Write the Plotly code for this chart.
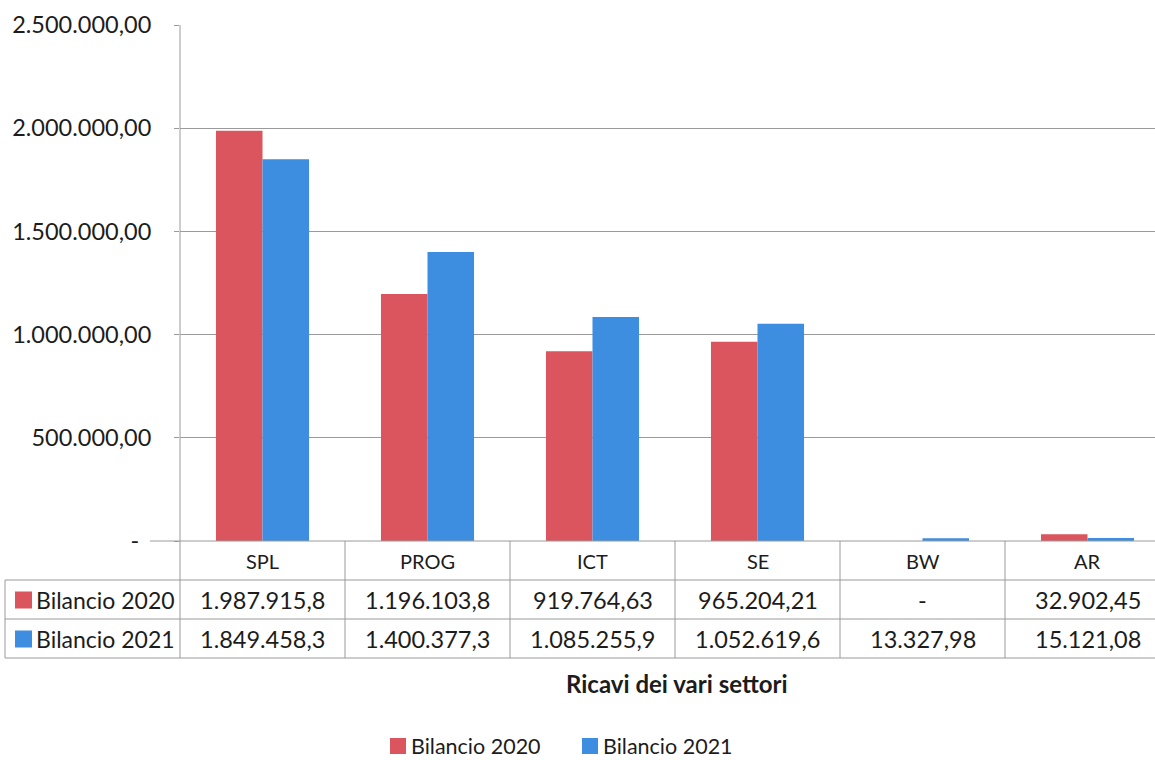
import plotly.graph_objects as go

# Sector revenues, two budget years
settori = ["SPL", "PROG", "ICT", "SE", "BW", "AR"]
bilancio_2020 = [1987915.80, 1196103.80, 919764.63, 965204.21, 0.0, 32902.45]
bilancio_2021 = [1849458.30, 1400377.30, 1085255.90, 1052619.60, 13327.98, 15121.08]
serie = ["Bilancio 2020", "Bilancio 2021"]
colori = ["#DA555D", "#3D8DE0"]

y_tick_vals = [0, 500000, 1000000, 1500000, 2000000, 2500000]
y_tick_text = ["-\u00a0\u00a0", "500.000,00", "1.000.000,00", "1.500.000,00",
               "2.000.000,00", "2.500.000,00"]

FONT = "Lato"
TXT = "#1c1c1c"
GRID = "#9a9a9a"


def fmt_it(v, width=11):
    """Italian number format with two decimals, clipped to the cell width."""
    if v == 0:
        return "-"
    s = f"{v:,.2f}".replace(",", "X").replace(".", ",").replace("X", ".")
    return s[:width]


fig = go.Figure()
for name, vals, col in zip(serie, [bilancio_2020, bilancio_2021], colori):
    fig.add_trace(go.Bar(x=settori, y=vals, name=name, marker_color=col,
                         marker_line_width=0, showlegend=False))

# pixel geometry of the plot area
W, H = 1155, 760
L, T, B = 180, 25, 219
plot_h = H - T - B
plot_w = W - L


def py(pix):
    return (H - B - pix) / plot_h


def px(pix):
    return (pix - L) / plot_w


row_lines = [py(580), py(619), py(658)]
row_mid = [py(561), py(600), py(639)]

shapes = []
# horizontal table rules
shapes.append(dict(type="line", xref="paper", yref="paper", x0=px(150), x1=1,
                   y0=0, y1=0, line=dict(color=GRID, width=1)))
for yy in row_lines:
    shapes.append(dict(type="line", xref="paper", yref="paper", x0=px(5), x1=1,
                       y0=yy, y1=yy, line=dict(color=GRID, width=1)))
# vertical table rules
shapes.append(dict(type="line", xref="paper", yref="paper", x0=px(5), x1=px(5),
                   y0=row_lines[0], y1=row_lines[2], line=dict(color=GRID, width=1)))
shapes.append(dict(type="line", xref="paper", yref="paper", x0=0, x1=0,
                   y0=1, y1=row_lines[2], line=dict(color=GRID, width=1)))
for i in range(len(settori) - 1):
    shapes.append(dict(type="line", xref="x", yref="paper", x0=i + 0.5, x1=i + 0.5,
                       y0=0, y1=row_lines[2], line=dict(color=GRID, width=1)))

annotations = []
for i, s in enumerate(settori):
    annotations.append(dict(x=i, y=row_mid[0], xref="x", yref="paper", text=s,
                            yanchor="middle", showarrow=False,
                            font=dict(family=FONT, size=20, color=TXT)))


def key_square(x_left, y_mid, col, size=17):
    return dict(type="rect", xref="paper", yref="paper",
                x0=px(x_left), x1=px(x_left + size),
                y0=y_mid - size / 2 / plot_h, y1=y_mid + size / 2 / plot_h,
                fillcolor=col, line=dict(width=0))


for r, (name, vals, col) in enumerate(zip(serie, [bilancio_2020, bilancio_2021], colori)):
    ym = row_mid[r + 1]
    # series key in the row header
    shapes.append(key_square(15, ym, col))
    annotations.append(dict(x=px(34), y=ym, xref="paper", yref="paper", text=name,
                            xanchor="left", yanchor="middle", showarrow=False,
                            font=dict(family=FONT, size=23, color=TXT)))
    for i, v in enumerate(vals):
        annotations.append(dict(x=i, y=ym, xref="x", yref="paper", text=fmt_it(v),
                                yanchor="middle", showarrow=False,
                                font=dict(family=FONT, size=23.5, color=TXT)))

# axis title under the table
annotations.append(dict(x=px(677), y=py(683), xref="paper", yref="paper",
                        text="<b>Ricavi dei vari settori</b>", showarrow=False,
                        yanchor="middle",
                        font=dict(family=FONT, size=24, color=TXT)))

# legend row at the bottom
LEG_Y = py(746)
for x_key, name, col in zip([390, 582], serie, colori):
    shapes.append(key_square(x_key, LEG_Y, col, size=16))
    annotations.append(dict(x=px(x_key + 20), y=LEG_Y, xref="paper", yref="paper",
                            text=name, xanchor="left", yanchor="middle", showarrow=False,
                            borderpad=0,
                            font=dict(family=FONT, size=21.5, color=TXT)))

fig.update_layout(
    width=W, height=H,
    margin=dict(l=L, r=0, t=T, b=B, autoexpand=False),
    plot_bgcolor="white", paper_bgcolor="white",
    barmode="group", bargap=0.436, bargroupgap=0,
    font=dict(family=FONT, color=TXT),
    showlegend=False,
    shapes=shapes,
    annotations=annotations,
)
fig.update_xaxes(range=[-0.5, 5.5 - 15 / 165], showticklabels=False, showgrid=False,
                 zeroline=False, showline=False, fixedrange=True)
fig.update_yaxes(range=[0, 2500000], tickvals=y_tick_vals, ticktext=y_tick_text,
                 showgrid=True, gridcolor=GRID, gridwidth=1, zeroline=False,
                 showline=False, ticks="outside", ticklen=5, tickcolor=GRID,
                 ticklabelstandoff=18,
                 tickfont=dict(family=FONT, size=23.5, color=TXT))

fig.write_html("out.html")
